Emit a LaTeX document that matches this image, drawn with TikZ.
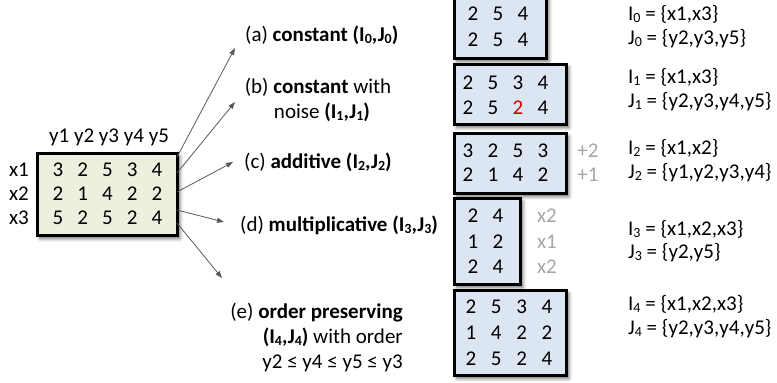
\documentclass[tikz,border=0pt]{standalone}
\usepackage{fontspec}
\setmainfont{Carlito}
\usetikzlibrary{arrows.meta,shadows.blur}
\definecolor{greenF}{HTML}{EBF1DE}
\definecolor{blueF}{HTML}{DCE6F2}
\definecolor{greyT}{HTML}{A6A6A6}
\definecolor{redT}{HTML}{D00000}
\definecolor{arrowC}{HTML}{595959}
\newcommand\lsub[1]{\raisebox{-0.1em}{\fontsize{14}{14}\selectfont #1}}
\tikzset{
  txt/.style={inner sep=0pt, text height=13pt, text depth=0pt, font=\fontsize{21}{25}\selectfont},
  num/.style={txt},
  gnum/.style={txt, text=greyT},
  boxbase/.style={draw=black, line width=2.8pt, anchor=north west, inner sep=0pt,
    blur shadow={shadow xshift=2.5pt, shadow yshift=-3pt, shadow blur radius=3.5pt, shadow opacity=60}},
  gbox/.style={boxbase, fill=greenF},
  bbox/.style={boxbase, fill=blueF},
  arr/.style={draw=arrowC, line width=0.8pt, -{Triangle[length=7pt,width=5pt]}}
}
\begin{document}
\begin{tikzpicture}[x=1pt,y=-1pt]
\useasboundingbox (0,0) rectangle (777,383);
% main matrix
\node[gbox, minimum width=140pt, minimum height=82pt] (M) at (36,152) {};
\node[txt] (ylab) at (109,136) {y1 y2 y3 y4 y5};
\foreach \lab [count=\i] in {x1,x2,x3}
  \node[txt] (xl\i) at (19,{170+24*(\i-1)}) {\lab};
\foreach \row [count=\i] in {{3,2,5,3,4},{2,1,4,2,2},{5,2,5,2,4}} {
  \foreach \v [count=\j] in \row {
    \node[num] (m\i\j) at ({58+24.75*(\j-1)},{170+24*(\i-1)}) {\v};
  }
}
% arrows
\coordinate (sa) at (177,157); \coordinate (ta) at (235,48);
\coordinate (sb) at (177,173); \coordinate (tb) at (235,102);
\coordinate (sc) at (177,192); \coordinate (tc) at (233,162);
\coordinate (sd) at (177,210); \coordinate (td) at (224,222);
\coordinate (se) at (177,223); \coordinate (te) at (222,278);
\draw[arr] (sa) -- (ta);
\draw[arr] (sb) -- (tb);
\draw[arr] (sc) -- (tc);
\draw[arr] (sd) -- (td);
\draw[arr] (se) -- (te);
% labels
\node[txt, anchor=west] (la) at (245,35) {(a) \textbf{constant (I\lsub{0},J\lsub{0})}};
\node[txt] (lb1) at (318,87) {(b) \textbf{constant} with};
\node[txt] (lb2) at (322,112) {noise \textbf{(I\lsub{1},J\lsub{1})}};
\node[txt, anchor=west] (lc) at (244,162) {(c) \textbf{additive (I\lsub{2},J\lsub{2})}};
\node[txt, anchor=west] (ld) at (240,225) {(d) \textbf{multiplicative (I\lsub{3},J\lsub{3})}};
\node[txt, anchor=east] (le1) at (403,312) {(e) \textbf{order preserving}};
\node[txt, anchor=east] (le2) at (403,337) {\textbf{(I\lsub{4},J\lsub{4})} with order};
\node[txt, anchor=east] (le3) at (403,362) {y2 ≤ y4 ≤ y5 ≤ y3};
% (a) box
\node[bbox, minimum width=92pt, minimum height=63pt] (B0) at (453,-6) {};
\foreach \row [count=\i] in {{2,5,4},{2,5,4}}
  \foreach \v [count=\j] in \row
    \node[num] (a\i\j) at ({473+25*(\j-1)},{14+26*(\i-1)}) {\v};
% (b) box
\node[bbox, minimum width=112pt, minimum height=60pt] (B1) at (453,63) {};
\foreach \v [count=\j] in {2,5,3,4}
  \node[num] (b1\j) at ({468+25*(\j-1)},83) {\v};
\node[num] (b21) at (468,108) {2};
\node[num] (b22) at (493,108) {5};
\node[num, text=redT] (b23) at (518,108) {2};
\node[num] (b24) at (543,108) {4};
% (c) box
\node[bbox, minimum width=112pt, minimum height=60pt] (B2) at (453,132) {};
\foreach \row [count=\i] in {{3,2,5,3},{2,1,4,2}}
  \foreach \v [count=\j] in \row
    \node[num] (c\i\j) at ({468+25*(\j-1)},{151+24*(\i-1)}) {\v};
\node[gnum] (cp1) at (588,151) {+2};
\node[gnum] (cp2) at (588,175) {+1};
% (d) box
\node[bbox, minimum width=66pt, minimum height=86pt] (B3) at (453,197) {};
\foreach \row [count=\i] in {{2,4},{1,2},{2,4}}
  \foreach \v [count=\j] in \row
    \node[num] (d\i\j) at ({473+25*(\j-1)},{216+25.5*(\i-1)}) {\v};
\foreach \lab [count=\i] in {x2,x1,x2}
  \node[gnum] (dm\i) at (547,{216+25.5*(\i-1)}) {\lab};
% (e) box
\node[bbox, minimum width=112pt, minimum height=85pt] (B4) at (453,289) {};
\foreach \row [count=\i] in {{2,5,3,4},{1,4,2,2},{2,5,2,4}}
  \foreach \v [count=\j] in \row
    \node[num] (e\i\j) at ({471+25.3*(\j-1)},{307+26*(\i-1)}) {\v};
% sets
\node[txt, anchor=west] (I0) at (628,14) {I\lsub{0} = \{x1,x3\}};
\node[txt, anchor=west] (J0) at (628,38) {J\lsub{0} = \{y2,y3,y5\}};
\node[txt, anchor=west] (I1) at (628,77) {I\lsub{1} = \{x1,x3\}};
\node[txt, anchor=west] (J1) at (628,101) {J\lsub{1} = \{y2,y3,y4,y5\}};
\node[txt, anchor=west] (I2) at (628,148) {I\lsub{2} = \{x1,x2\}};
\node[txt, anchor=west] (J2) at (628,172) {J\lsub{2} = \{y1,y2,y3,y4\}};
\node[txt, anchor=west] (I3) at (628,229) {I\lsub{3} = \{x1,x2,x3\}};
\node[txt, anchor=west] (J3) at (628,252) {J\lsub{3} = \{y2,y5\}};
\node[txt, anchor=west] (I4) at (628,304) {I\lsub{4} = \{x1,x2,x3\}};
\node[txt, anchor=west] (J4) at (628,328) {J\lsub{4} = \{y2,y3,y4,y5\}};
\end{tikzpicture}
\end{document}
